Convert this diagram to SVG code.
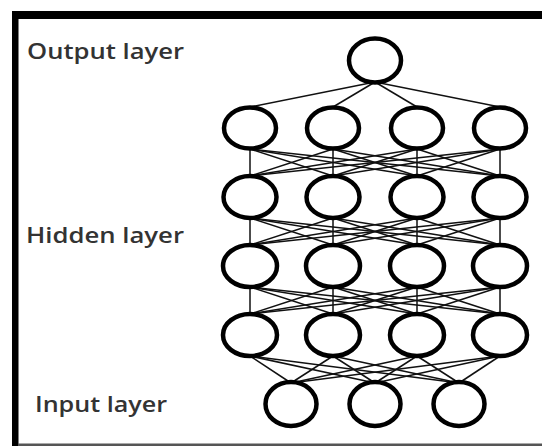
<svg xmlns="http://www.w3.org/2000/svg" width="542" height="446" viewBox="0 0 542 446">
<style>
.node{fill:#fff;stroke:#000;stroke-width:4.5}
.edge{stroke:#111;stroke-width:1.5;fill:none}
.lbl{font-family:"Open Sans","Noto Sans",sans-serif;font-weight:600;font-size:22px;fill:#333}
</style>
<rect x="0" y="0" width="542" height="446" fill="#fff"/>
<g id="frame">
<rect x="12" y="11" width="530" height="8" fill="#000"/>
<rect x="12" y="11" width="6.5" height="435" fill="#000"/>
<rect x="18" y="443.5" width="524" height="2.5" fill="#555"/>
</g>
<g id="labels">
<text class="lbl" x="27" y="59" textLength="157" lengthAdjust="spacingAndGlyphs">Output layer</text>
<text class="lbl" x="26" y="243" textLength="158" lengthAdjust="spacingAndGlyphs">Hidden layer</text>
<text class="lbl" x="35" y="412" textLength="132" lengthAdjust="spacingAndGlyphs">Input layer</text>
</g>
<g id="connectors" class="edge">
<line x1="375" y1="82" x2="250" y2="107"/><line x1="375" y1="82" x2="333" y2="107"/><line x1="375" y1="82" x2="417" y2="107"/><line x1="375" y1="82" x2="500" y2="107"/>
<line x1="250" y1="149" x2="250" y2="176"/><line x1="250" y1="149" x2="333" y2="176"/><line x1="250" y1="149" x2="417" y2="176"/><line x1="250" y1="149" x2="500" y2="176"/>
<line x1="333" y1="149" x2="250" y2="176"/><line x1="333" y1="149" x2="333" y2="176"/><line x1="333" y1="149" x2="417" y2="176"/><line x1="333" y1="149" x2="500" y2="176"/>
<line x1="417" y1="149" x2="250" y2="176"/><line x1="417" y1="149" x2="333" y2="176"/><line x1="417" y1="149" x2="417" y2="176"/><line x1="417" y1="149" x2="500" y2="176"/>
<line x1="500" y1="149" x2="250" y2="176"/><line x1="500" y1="149" x2="333" y2="176"/><line x1="500" y1="149" x2="417" y2="176"/><line x1="500" y1="149" x2="500" y2="176"/>
<line x1="250" y1="218" x2="250" y2="245"/><line x1="250" y1="218" x2="333" y2="245"/><line x1="250" y1="218" x2="417" y2="245"/><line x1="250" y1="218" x2="500" y2="245"/>
<line x1="333" y1="218" x2="250" y2="245"/><line x1="333" y1="218" x2="333" y2="245"/><line x1="333" y1="218" x2="417" y2="245"/><line x1="333" y1="218" x2="500" y2="245"/>
<line x1="417" y1="218" x2="250" y2="245"/><line x1="417" y1="218" x2="333" y2="245"/><line x1="417" y1="218" x2="417" y2="245"/><line x1="417" y1="218" x2="500" y2="245"/>
<line x1="500" y1="218" x2="250" y2="245"/><line x1="500" y1="218" x2="333" y2="245"/><line x1="500" y1="218" x2="417" y2="245"/><line x1="500" y1="218" x2="500" y2="245"/>
<line x1="250" y1="287" x2="250" y2="314"/><line x1="250" y1="287" x2="333" y2="314"/><line x1="250" y1="287" x2="417" y2="314"/><line x1="250" y1="287" x2="500" y2="314"/>
<line x1="333" y1="287" x2="250" y2="314"/><line x1="333" y1="287" x2="333" y2="314"/><line x1="333" y1="287" x2="417" y2="314"/><line x1="333" y1="287" x2="500" y2="314"/>
<line x1="417" y1="287" x2="250" y2="314"/><line x1="417" y1="287" x2="333" y2="314"/><line x1="417" y1="287" x2="417" y2="314"/><line x1="417" y1="287" x2="500" y2="314"/>
<line x1="500" y1="287" x2="250" y2="314"/><line x1="500" y1="287" x2="333" y2="314"/><line x1="500" y1="287" x2="417" y2="314"/><line x1="500" y1="287" x2="500" y2="314"/>
<line x1="250" y1="356" x2="291" y2="383"/><line x1="250" y1="356" x2="375" y2="383"/><line x1="250" y1="356" x2="459" y2="383"/>
<line x1="333" y1="356" x2="291" y2="383"/><line x1="333" y1="356" x2="375" y2="383"/><line x1="333" y1="356" x2="459" y2="383"/>
<line x1="417" y1="356" x2="291" y2="383"/><line x1="417" y1="356" x2="375" y2="383"/><line x1="417" y1="356" x2="459" y2="383"/>
<line x1="500" y1="356" x2="291" y2="383"/><line x1="500" y1="356" x2="375" y2="383"/><line x1="500" y1="356" x2="459" y2="383"/>
</g>
<g id="out"><ellipse class="node" cx="375" cy="60.5" rx="26" ry="22"/></g>
<g id="h1a"><ellipse class="node" cx="250" cy="128" rx="26" ry="20.5"/></g>
<g id="h1b"><ellipse class="node" cx="333" cy="128" rx="26" ry="20.5"/></g>
<g id="h1c"><ellipse class="node" cx="417" cy="128" rx="26" ry="20.5"/></g>
<g id="h1d"><ellipse class="node" cx="500" cy="128" rx="26" ry="20.5"/></g>
<g id="h2a"><ellipse class="node" cx="250" cy="197" rx="26.5" ry="21"/></g>
<g id="h2b"><ellipse class="node" cx="333" cy="197" rx="26.5" ry="21"/></g>
<g id="h2c"><ellipse class="node" cx="417" cy="197" rx="26.5" ry="21"/></g>
<g id="h2d"><ellipse class="node" cx="500" cy="197" rx="26.5" ry="21"/></g>
<g id="h3a"><ellipse class="node" cx="250" cy="266" rx="27" ry="21"/></g>
<g id="h3b"><ellipse class="node" cx="333" cy="266" rx="27" ry="21"/></g>
<g id="h3c"><ellipse class="node" cx="417" cy="266" rx="27" ry="21"/></g>
<g id="h3d"><ellipse class="node" cx="500" cy="266" rx="27" ry="21"/></g>
<g id="h4a"><ellipse class="node" cx="250" cy="335" rx="27" ry="21"/></g>
<g id="h4b"><ellipse class="node" cx="333" cy="335" rx="27" ry="21"/></g>
<g id="h4c"><ellipse class="node" cx="417" cy="335" rx="27" ry="21"/></g>
<g id="h4d"><ellipse class="node" cx="500" cy="335" rx="27" ry="21"/></g>
<g id="in1"><ellipse class="node" cx="291" cy="404" rx="25.5" ry="22"/></g>
<g id="in2"><ellipse class="node" cx="375" cy="404" rx="25.5" ry="22"/></g>
<g id="in3"><ellipse class="node" cx="459" cy="404" rx="25.5" ry="22"/></g>
</svg>
